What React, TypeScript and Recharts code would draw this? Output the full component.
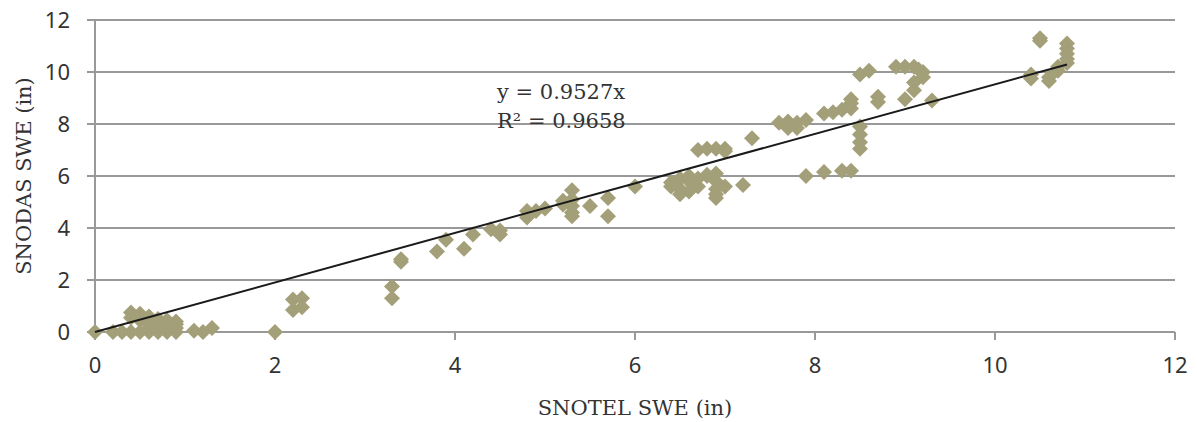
import React from 'react';
import { ScatterChart, Scatter, XAxis, YAxis, CartesianGrid } from 'recharts';

// SNOTEL (x) vs SNODAS (y) snow water equivalent, inches
const snotel = [
  0, 0.2, 0.3, 0.4, 0.5, 0.6, 0.7, 0.8, 0.9,
  0.4, 0.4, 0.5, 0.5, 0.6, 0.6, 0.7, 0.7, 0.8, 0.8, 0.9, 0.9, 0.6, 0.9,
  1.1, 1.2, 1.3,
  2.0, 2.2, 2.2, 2.3, 2.3,
  3.3, 3.3, 3.4, 3.4,
  3.8, 3.9, 4.1, 4.2, 4.4, 4.5, 4.5,
  4.8, 4.8, 4.9, 5.0, 5.2, 5.2,
  5.3, 5.3, 5.3, 5.3, 5.3,
  5.5, 5.7, 5.7, 6.0,
  6.4, 6.4, 6.5, 6.5, 6.5, 6.6, 6.6, 6.7, 6.7, 6.8, 6.8, 6.9, 6.9, 6.9, 6.9, 6.9, 7.0, 6.6,
  6.7, 6.8, 6.9, 7.0, 7.0, 7.2, 7.3,
  7.6, 7.7, 7.7, 7.8, 7.8, 7.9, 7.9,
  8.1, 8.1, 8.2, 8.3, 8.3, 8.4, 8.4, 8.4, 8.4,
  8.5, 8.5, 8.5, 8.5, 8.5, 8.6, 8.7, 8.7,
  8.9, 9.0, 9.0, 9.1, 9.1, 9.1, 9.2, 9.2, 9.15, 9.3,
  10.4, 10.4, 10.5, 10.5, 10.6, 10.6, 10.7, 10.7, 10.8, 10.8, 10.8, 10.8, 10.8,
];
const snodas = [
  0, 0, 0, 0, 0, 0, 0, 0, 0,
  0.75, 0.55, 0.7, 0.45, 0.6, 0.3, 0.5, 0.2, 0.45, 0.2, 0.4, 0.15, 0.15, 0.3,
  0.05, 0, 0.15,
  0, 1.25, 0.85, 1.3, 0.95,
  1.75, 1.3, 2.7, 2.8,
  3.1, 3.55, 3.2, 3.75, 3.95, 3.75, 3.9,
  4.65, 4.4, 4.65, 4.75, 5.05, 4.9,
  5.45, 5.1, 4.85, 4.6, 4.45,
  4.85, 5.15, 4.45, 5.6,
  5.75, 5.6, 5.9, 5.5, 5.3, 6.0, 5.8, 5.9, 5.6, 6.05, 6.0, 6.1, 5.8, 5.5, 5.3, 5.15, 5.6, 5.4,
  7.0, 7.05, 7.05, 7.05, 6.95, 5.65, 7.45,
  8.05, 8.1, 7.85, 8.05, 7.85, 8.15, 6.0,
  8.4, 6.15, 8.45, 8.55, 6.2, 8.6, 8.8, 8.95, 6.2,
  9.9, 7.9, 7.6, 7.3, 7.05, 10.05, 9.05, 8.85,
  10.2, 10.2, 8.95, 10.2, 9.3, 9.6, 10.0, 9.8, 10.1, 8.9,
  9.9, 9.75, 11.3, 11.2, 9.65, 9.8, 10.05, 10.2, 11.1, 10.9, 10.7, 10.5, 10.35,
];

const axisTicks = [0, 2, 4, 6, 8, 10, 12];
const slope = 0.9527;
const rSquared = 0.9658;
const trendX = [0, 10.8];

const points = snotel.map((x, i) => ({ x, y: snodas[i] }));
const trend = trendX.map((x) => ({ x, y: x * slope }));

const MARKER = '#a39f78';
const GRID = '#999999';
const TEXT = '#333333';
const serif = '"DejaVu Serif", serif';

const Diamond = (props: any) => {
  const { cx, cy } = props;
  const r = 8;
  return (
    <polygon
      points={`${cx},${cy - r} ${cx + r},${cy} ${cx},${cy + r} ${cx - r},${cy}`}
      fill={MARKER}
    />
  );
};

const tickStyle = { fill: TEXT, fontSize: 22, fontFamily: '"Noto Sans", sans-serif' };
const titleStyle = { fill: TEXT, fontSize: 21, fontFamily: serif, textAnchor: 'middle' as const };

export default function App() {
  return (
    <div style={{ position: 'relative', width: 1197, height: 422, background: '#fff' }}>
      <style>{'html, body { margin: 0; padding: 0; overflow: hidden; }'}</style>
      <ScatterChart width={1197} height={422} margin={{ top: 20, right: 22, left: 0, bottom: 0 }}>
        <CartesianGrid vertical={false} stroke={GRID} strokeWidth={2} />
        <XAxis
          type="number"
          dataKey="x"
          domain={[0, 12]}
          ticks={axisTicks}
          height={90}
          tick={tickStyle}
          tickSize={8}
          tickMargin={17}
          axisLine={{ stroke: GRID, strokeWidth: 2 }}
          tickLine={{ stroke: GRID, strokeWidth: 2 }}
          label={{ value: 'SNOTEL SWE (in)', position: 'insideBottom', offset: 7, style: titleStyle }}
        />
        <YAxis
          type="number"
          dataKey="y"
          domain={[0, 12]}
          ticks={axisTicks}
          width={95}
          tick={tickStyle}
          tickSize={8}
          tickMargin={17}
          axisLine={{ stroke: GRID, strokeWidth: 2 }}
          tickLine={{ stroke: GRID, strokeWidth: 2 }}
          label={{ value: 'SNODAS SWE (in)', angle: -90, position: 'insideLeft', offset: 24, style: titleStyle }}
        />
        <Scatter data={points} shape={<Diamond />} isAnimationActive={false} />
        <Scatter
          data={trend}
          line={{ stroke: '#1a1a1a', strokeWidth: 2 }}
          shape={() => <g />}
          isAnimationActive={false}
        />
      </ScatterChart>
      <svg
        width={1197}
        height={160}
        style={{ position: 'absolute', left: 0, top: 0, pointerEvents: 'none' }}
      >
        <g fill={TEXT} fontFamily={serif} fontSize={21}>
          <text x={497} y={99}>{`y = ${slope}x`}</text>
          <text x={497} y={128}>{`R² = ${rSquared}`}</text>
        </g>
      </svg>
    </div>
  );
}
